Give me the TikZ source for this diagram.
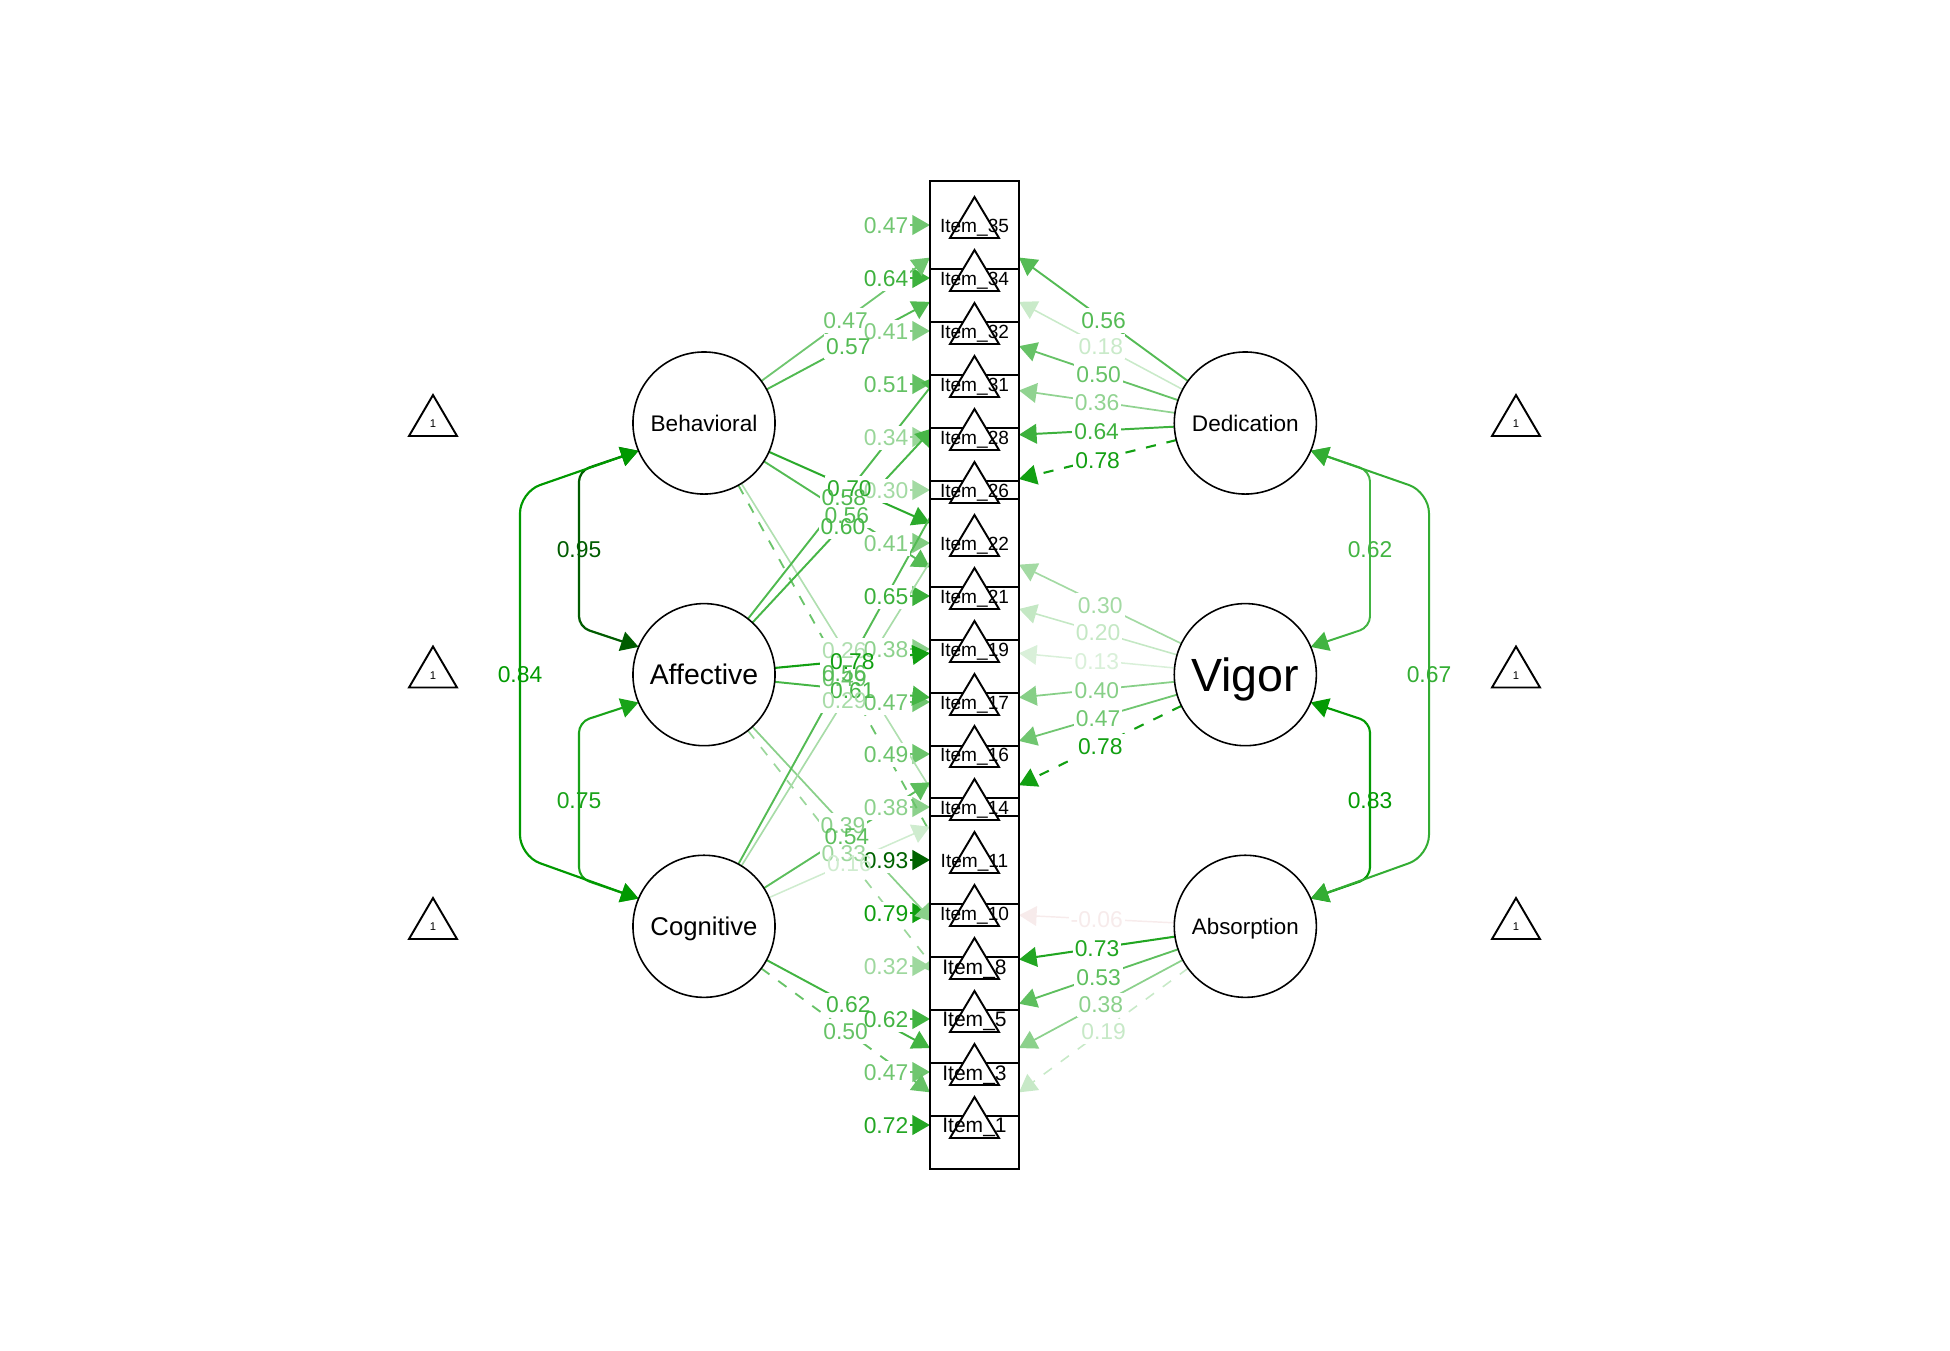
\documentclass[tikz,border=0pt]{standalone}
\usepackage{fontspec}
\setmainfont{Liberation Sans}
\usetikzlibrary{arrows.meta}
\usetikzlibrary{positioning}
\pgfdeclarelayer{edges}
\pgfdeclarelayer{backs}
\pgfsetlayers{edges,backs,main}
\definecolor{semgreen}{RGB}{0,153,0}
\definecolor{sempink}{RGB}{247,235,235}
\newcommand{\edgecol}[1]{%
	\pgfmathtruncatemacro\pctw{min(100,abs(#1)*120)}%
	\pgfmathtruncatemacro\pctk{max(60,min(100,100-(abs(#1)-0.84)*400))}%
	\pgfmathsetmacro\lw{0.4+0.25*abs(#1)}%
	\ifdim#1pt<0pt\colorlet{col}{sempink}\else\colorlet{col}{semgreen!\pctw!white}\colorlet{col}{col!\pctk!black}\fi}
\tikzset{
	neg line/.style={dash pattern=on 2.9pt off 3.1pt},
	value node/.style={font=\fontsize{6.5}{7}\selectfont,inner sep=0pt,yshift=-0.3pt},
	back node/.style={value node,fill=white,text=white,inner xsep=0.6pt,inner ysep=1.2pt},
	item node/.style={rectangle,draw,fill=white,line width=0.57pt,minimum width=0.89cm,minimum height=0.88cm,inner sep=0pt,outer sep=0pt},
	latent node/.style={circle,draw,fill=white,line width=0.45pt,minimum size=1.42cm,inner sep=0pt,outer sep=0pt,text depth=0pt},
	mean mark/.style={-,draw,fill=white,line width=0.55pt,line join=miter},
	one node/.style={font=\fontsize{3.2}{4}\selectfont,inner sep=0pt,yshift=-0.3pt},
}
\begin{document}
\begin{tikzpicture}[->,>={Triangle[length=5pt,width=5.6pt]},x=0.01cm,y=-0.01cm,node distance=2.515cm]
	\useasboundingbox (0,0) rectangle (1950,1350);

	\node[latent node,font=\fontsize{6.42}{7}\selectfont] (beh) at (704,423) {Behavioral};
	\node[latent node,font=\fontsize{8.08}{9}\selectfont] (aff) [below of=beh] {Affective};
	\node[latent node,font=\fontsize{7.3}{8}\selectfont] (cog) [below of=aff] {Cognitive};
	\node[latent node,font=\fontsize{6.42}{7}\selectfont] (ded) [right of=beh,node distance=5.41cm] {Dedication};
	\node[latent node,font=\fontsize{13.25}{14}\selectfont] (vig) [below of=ded] {Vigor};
	\node[latent node,font=\fontsize{6.35}{7}\selectfont] (abso) [below of=vig] {Absorption};

	\foreach \n/\y in {1/1125,3/1072,5/1019,8/966,10/913,14/807,16/754,17/702,19/649,21/596,26/490,28/437,31/384,32/331,34/278,35/225,22/543,11/860}
		\node[item node] (i\n) at (974.5,\y) {};

	\foreach \n/\y/\f in {35/225/5.43,34/278/5.43,32/331/5.43,31/384/5.43,28/437/5.43,26/490/5.43,22/543/5.43,21/596/5.43,19/649/5.43,17/702/5.43,16/754/5.43,14/807/5.43,11/860/5.43,10/913/5.43,8/966/5.98,5/1019/5.98,3/1072/5.98,1/1125/5.98}{
		\coordinate (t\n) at (974.5,\y);
		\draw[mean mark] (t\n) ++(-24.5,13) -- ++(24.5,-41) -- ++(24.5,41) -- cycle;
		\node[inner sep=0pt,text depth=0pt,yshift=-0.2pt,font=\fontsize{\f}{7}\selectfont] (l\n) at (t\n) {Item\_\n};
	}

	\foreach \n/\x/\y in {tbeh/433/423,taff/433/674.5,tcog/433/926,tded/1516/423,tvig/1516/674.5,tabso/1516/926}{
		\coordinate (\n) at (\x,\y);
		\draw[mean mark] (\n) ++(-24,13) -- ++(24,-41) -- ++(24,41) -- cycle;
		\node[one node] (o\n) at (\n) {1};
	}

	\foreach \n/\y/\v in {35/225/0.47,34/278/0.64,32/331/0.41,31/384/0.51,28/437/0.34,26/490/0.30,22/543/0.41,21/596/0.65,19/649/0.38,17/702/0.47,16/754/0.49,14/807/0.38,11/860/0.93,10/913/0.79,8/966/0.32,5/1019/0.62,3/1072/0.47,1/1125/0.72}{
		\edgecol{\v}
		\coordinate (c\n) at (886,\y);
		\begin{pgfonlayer}{edges}
			\draw[draw=col,line width=\lw pt] (c\n) -- (c\n -| i\n.west);
		\end{pgfonlayer}
		\begin{pgfonlayer}{backs}
			\node[back node] at (c\n) {\v};
		\end{pgfonlayer}
		\node[value node,text=col] (vc\n) at (c\n) {\v};
	}

	\foreach \a/\b/\v/\s in {
		beh/i35/0.47/solid,beh/i34/0.57/solid,beh/i22/0.70/solid,beh/i21/0.56/solid,beh/i11/0.26/solid,beh/i10/0.49/neg line,
		aff/i32/0.58/solid,aff/i31/0.60/solid,aff/i19/0.78/solid,aff/i17/0.61/solid,aff/i8/0.39/solid,aff/i5/0.33/neg line,
		cog/i28/0.56/solid,cog/i26/0.29/solid,cog/i16/0.54/solid,cog/i14/0.16/solid,cog/i3/0.62/solid,cog/i1/0.50/neg line,
		ded/i35/0.56/solid,ded/i34/0.18/solid,ded/i32/0.50/solid,ded/i31/0.36/solid,ded/i28/0.64/solid,ded/i26/0.78/neg line,
		vig/i22/0.30/solid,vig/i21/0.20/solid,vig/i19/0.13/solid,vig/i17/0.40/solid,vig/i16/0.47/solid,vig/i14/0.78/neg line,
		abso/i10/-0.06/solid,abso/i8/0.73/solid,abso/i5/0.53/solid,abso/i3/0.38/solid,abso/i1/0.19/neg line}{
		\edgecol{\v}
		\begin{pgfonlayer}{edges}
			\draw[\s,draw=col,line width=\lw pt] (\a) -- coordinate (m\a\b) (\b);
		\end{pgfonlayer}
		\begin{pgfonlayer}{backs}
			\node[back node] at (m\a\b) {\v};
		\end{pgfonlayer}
		\node[value node,text=col] (v\a\b) at (m\a\b) {\v};
	}

	\foreach \p/\ap/\q/\aq/\x/\yu/\yl/\r/\v in {
		beh/203/aff/157/579/471/627/3/0.95,
		aff/203/cog/157/579/722/878/3/0.75,
		beh/203/cog/157/520/492/856/6/0.84,
		ded/-23/vig/23/1370/471/627/3/0.62,
		vig/-23/abso/23/1370/722/878/3/0.83,
		ded/-23/abso/23/1429/492/856/6/0.67}{
		\edgecol{\v}
		\coordinate (u\p\q) at (\x,\yu);
		\coordinate (w\p\q) at (\x,\yl);
		\begin{pgfonlayer}{edges}
			\draw[<->,draw=col,line width=\lw pt,rounded corners=\r pt] (\p.\ap) -- (u\p\q) -- (w\p\q) -- (\q.\aq);
		\end{pgfonlayer}
		\node[value node,text=col] (v\p\q) at (\x,{(\yu+\yl)/2}) {\v};
	}
\end{tikzpicture}
\end{document}
